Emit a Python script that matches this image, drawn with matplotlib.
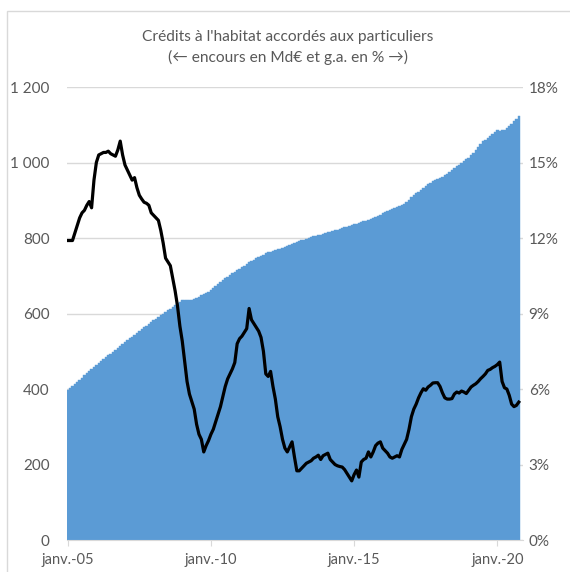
import matplotlib
matplotlib.use("Agg")
import matplotlib.pyplot as plt
import numpy as np
from matplotlib.patches import Rectangle

# Colours / fonts (Excel-like look)
BLUE = "#5B9BD5"
GREY_TXT = "#595959"
GREY_GRID = "#D9D9D9"
plt.rcParams["font.family"] = ["Lato", "DejaVu Sans"]

# %% Data : monthly, janv. 2005 -> oct. 2020
# outstanding housing loans (Md€, left axis)
encours = [
    397, 402, 408, 413, 419, 425, 430, 436, 442, 448, 453, 459,        # 2005
    464, 469, 474, 479, 484, 489, 494, 499, 504, 509, 514, 519,        # 2006
    524, 529, 534, 539, 544, 549, 554, 559, 564, 568, 573, 577,        # 2007
    582, 586, 591, 595, 600, 604, 609, 613, 618, 622, 627, 631,        # 2008
    635, 636, 636, 637, 637, 638, 640, 644, 648, 651, 655, 658,        # 2009
    661, 667, 673, 679, 684, 688, 693, 697, 701, 706, 710, 714,        # 2010
    719, 723, 727, 731, 736, 740, 743, 746, 750, 753, 756, 759,        # 2011
    762, 764, 766, 768, 770, 772, 774, 776, 779, 781, 784, 786,        # 2012
    789, 791, 794, 796, 798, 800, 802, 804, 806, 807, 809, 811,        # 2013
    813, 815, 817, 818, 820, 822, 824, 826, 828, 830, 832, 834,        # 2014
    836, 838, 840, 842, 844, 846, 848, 850, 853, 856, 859, 862,        # 2015
    865, 868, 871, 874, 877, 880, 882, 885, 888, 891, 896, 902,        # 2016
    908, 914, 919, 922, 927, 932, 937, 942, 947, 950, 953, 956,        # 2017
    959, 962, 966, 970, 975, 980, 985, 990, 994, 999, 1003, 1008,      # 2018
    1013, 1019, 1025, 1033, 1042, 1050, 1056, 1060, 1065, 1070, 1075, 1080,  # 2019
    1085, 1084, 1085, 1086, 1091, 1097, 1103, 1110, 1116, 1122,        # 2020
]

# year-on-year growth (%, right axis)
glissement = [
    11.9, 11.9, 11.9, 12.2, 12.5, 12.8, 13.0, 13.1, 13.3, 13.45, 13.2, 14.3,   # 2005
    15.0, 15.3, 15.35, 15.4, 15.4, 15.45, 15.35, 15.3, 15.25, 15.5, 15.85, 15.3,  # 2006
    14.9, 14.7, 14.5, 14.3, 14.4, 14.0, 13.7, 13.55, 13.42, 13.38, 13.3, 13.0,  # 2007
    12.9, 12.8, 12.7, 12.3, 11.8, 11.2, 11.05, 10.9, 10.4, 9.9, 9.3, 8.5,      # 2008
    7.9, 7.1, 6.3, 5.8, 5.5, 5.2, 4.6, 4.2, 4.0, 3.5, 3.75, 3.95,              # 2009
    4.2, 4.4, 4.7, 5.0, 5.3, 5.7, 6.1, 6.4, 6.6, 6.8, 7.05, 7.8,               # 2010
    8.0, 8.1, 8.25, 8.4, 9.2, 8.75, 8.6, 8.45, 8.3, 8.05, 7.5, 6.6,            # 2011
    6.5, 6.7, 6.1, 5.6, 4.9, 4.5, 4.0, 3.65, 3.5, 3.7, 3.9, 3.3,               # 2012
    2.75, 2.75, 2.85, 2.95, 3.05, 3.1, 3.15, 3.25, 3.3, 3.37, 3.2, 3.35,       # 2013
    3.4, 3.45, 3.2, 3.1, 3.0, 2.95, 2.92, 2.9, 2.8, 2.65, 2.5, 2.35,           # 2014
    2.6, 2.78, 2.5, 3.1, 3.2, 3.25, 3.5, 3.3, 3.5, 3.75, 3.85, 3.9,            # 2015
    3.65, 3.55, 3.45, 3.3, 3.25, 3.3, 3.35, 3.3, 3.6, 3.8, 4.0, 4.4,           # 2016
    4.9, 5.2, 5.4, 5.65, 5.85, 6.01, 5.95, 6.08, 6.15, 6.24, 6.25, 6.25,       # 2017
    6.1, 5.85, 5.65, 5.6, 5.6, 5.62, 5.8, 5.88, 5.84, 5.92, 5.88, 5.82,        # 2018
    5.95, 6.08, 6.15, 6.21, 6.3, 6.41, 6.5, 6.6, 6.74, 6.78, 6.85, 6.9,        # 2019
    6.97, 7.07, 6.3, 6.05, 6.0, 5.75, 5.4, 5.3, 5.35, 5.48,                    # 2020
]

xtick_pos = [0, 60, 120, 180]
xtick_labels = ["janv.-05", "janv.-10", "janv.-15", "janv.-20"]
left_ticks = [0, 200, 400, 600, 800, 1000, 1200]
left_labels = ["0", "200", "400", "600", "800", "1 000", "1 200"]
right_ticks = [0, 3, 6, 9, 12, 15, 18]

title = "Crédits à l'habitat accordés aux particuliers\n(\u2190 encours en Md\u20ac et g.a. en % \u2192)"

# %% Plot
months = np.arange(len(encours))

fig = plt.figure(figsize=(5.70, 5.72), dpi=100)
ax = fig.add_axes([0.1167, 0.0559, 0.801, 0.792])

ax.bar(months, encours, width=1.0, color=BLUE, edgecolor=BLUE, linewidth=0.3, zorder=2)
ax.set_xlim(-0.5, 190.8)
ax.set_ylim(0, 1200)
ax.set_yticks(left_ticks)
ax.set_yticklabels(left_labels)
ax.set_xticks(xtick_pos)
ax.set_xticklabels(xtick_labels)
ax.set_axisbelow(True)
ax.yaxis.grid(True, color=GREY_GRID, linewidth=1.0)

for s in ["top", "right", "left"]:
    ax.spines[s].set_visible(False)
ax.spines["bottom"].set_color(GREY_GRID)
ax.tick_params(axis="y", length=0, pad=12, labelsize=11, labelcolor=GREY_TXT)
ax.tick_params(axis="x", length=4, color=GREY_GRID, pad=5, labelsize=10.5, labelcolor=GREY_TXT)

# growth rate on secondary axis
ax2 = ax.twinx()
ax2.plot(months, glissement, color="black", linewidth=2.3, solid_joinstyle="round")
ax2.set_ylim(0, 18)
ax2.set_yticks(right_ticks)
ax2.set_yticklabels([f"{t}%" for t in right_ticks])
for s in ax2.spines.values():
    s.set_visible(False)
ax2.tick_params(axis="y", length=0, pad=4, labelsize=11, labelcolor=GREY_TXT)

fig.text(0.505, 0.917, title, ha="center", va="center", fontsize=11.2,
         color=GREY_TXT, linespacing=1.5)

# chart area border
fig.patches.append(Rectangle((7 / 570, -0.05), 1.1, 1.05 - 11 / 572, transform=fig.transFigure,
                             fill=False, edgecolor=GREY_GRID, linewidth=1.0))

fig.savefig("out.png", dpi=100)
